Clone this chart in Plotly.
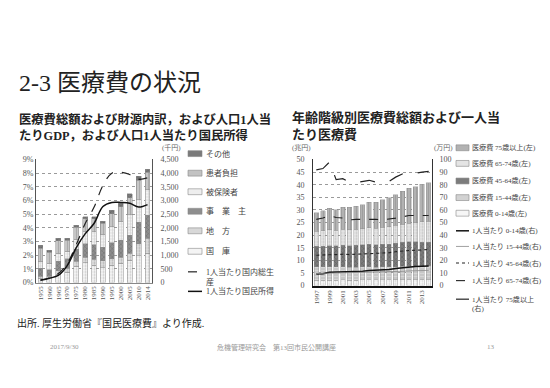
import plotly.graph_objects as go

W, H = 550, 388
def X(p): return p / W
def Y(p): return 1 - p / H

# ---------------- data: left chart (medical cost as % of GDP, by source) ----------------
years_left = ['1955', '1960', '1965', '1970', '1975', '1980', '1985',
              '1990', '1995', '2000', '2005', '2010', '2014']
kokko      = [0.30, 0.30, 0.60, 0.75, 1.20, 1.45, 1.25, 1.10, 1.25, 1.40, 1.65, 1.95, 2.15]
chiho      = [0.15, 0.15, 0.25, 0.30, 0.35, 0.40, 0.45, 0.50, 0.50, 0.45, 0.50, 0.90, 1.08]
jigyonushi = [0.60, 0.50, 0.70, 0.70, 0.90, 1.00, 1.05, 1.00, 1.15, 1.25, 1.30, 1.55, 1.70]
hihokensha = [0.50, 0.45, 0.60, 0.55, 0.70, 0.85, 0.95, 0.95, 1.20, 1.40, 1.50, 1.65, 1.85]
kanja      = [0.95, 0.80, 0.90, 0.80, 0.90, 0.95, 0.95, 0.80, 0.95, 1.05, 1.25, 1.42, 1.28]
sonota     = [0.23, 0.18, 0.20, 0.15, 0.15, 0.15, 0.15, 0.15, 0.25, 0.25, 0.30, 0.30, 0.24]
gdp_pc     = [95, 170, 330, 700, 1380, 2150, 2750, 3550, 4000, 4030, 3950, 3780, 3830]
ni_pc      = [85, 160, 260, 620, 1270, 1780, 2160, 2780, 2930, 2930, 2900, 2760, 2850]

# ---------------- data: right chart (medical cost by age, trillion yen / per capita 10k yen) ----------------
years_right = [str(y) for y in range(1997, 2015)]
right_ticks = ['1997', '1999', '2001', '2003', '2005', '2007', '2009', '2011', '2013']
c0_14  = [2.0, 2.0, 2.1, 2.1, 2.2, 2.1, 2.1, 2.2, 2.2, 2.2, 2.3, 2.3, 2.4, 2.5, 2.5, 2.5, 2.5, 2.5]
c15_44 = [5.4, 5.4, 5.4, 5.3, 5.3, 5.2, 5.2, 5.2, 5.2, 5.1, 5.1, 5.1, 5.1, 5.2, 5.2, 5.2, 5.2, 5.3]
c45_64 = [8.1, 8.2, 8.3, 8.3, 8.4, 8.5, 8.6, 8.7, 8.9, 8.8, 8.9, 9.0, 9.3, 9.4, 9.6, 9.6, 9.5, 9.3]
c65_74 = [6.0, 6.2, 6.4, 6.2, 6.4, 6.4, 6.5, 6.5, 6.7, 6.6, 6.8, 6.9, 7.1, 7.3, 7.5, 7.6, 8.0, 8.4]
c75    = [7.4, 7.8, 8.5, 8.2, 8.8, 8.8, 9.1, 9.5, 10.1, 10.4, 11.0, 11.5, 12.1, 13.0, 13.8, 14.3, 14.9, 15.3]
p0_14  = [9.2, 9.4, 10.5, 10.6, 11.0, 11.0, 11.2, 11.4, 12.0, 12.1, 12.6, 12.7, 13.4, 14.1, 14.7, 15.0, 15.3, 15.4]
p15_44 = [9.5, 9.6, 9.9, 9.8, 10.0, 9.9, 10.0, 10.1, 10.4, 10.4, 10.6, 10.7, 11.0, 11.3, 11.6, 11.8, 11.9, 12.0]
p45_64 = [24.0, 24.2, 24.6, 24.5, 24.8, 24.6, 24.8, 25.0, 25.6, 25.6, 25.9, 26.0, 26.8, 27.5, 27.8, 28.0, 28.1, 28.5]
p65_74 = [52.5, 53.5, 55.5, 54.0, 53.5, 52.0, 52.5, 52.5, 53.0, 52.5, 52.0, 52.5, 53.5, 54.5, 55.5, 55.5, 55.5, 55.5]
p75    = [91.8, 92.8, 98.0, 84.0, 84.8, 82.0, 81.7, 82.5, 83.5, 82.0, 82.5, 82.5, 86.0, 88.5, 89.0, 89.0, 90.0, 90.5]

SERIF = "Liberation Serif, Noto Sans CJK JP"
JP = "Noto Sans CJK JP"

fig = go.Figure()

# left stacked bars
left_stack = [
    ("国　庫", kokko, '#f6f6f6', '.', '#a0a0a0'),
    ("地　方", chiho, '#dedede', '.', '#8a8a8a'),
    ("事　業　主", jigyonushi, '#8e8e8e', 'x', '#555555'),
    ("被保険者", hihokensha, '#f2f2f2', '+', '#b0b0b0'),
    ("患者負担", kanja, '#c6c6c6', '|', '#909090'),
    ("その他", sonota, '#7a7a7a', 'x', '#444444'),
]
for name, vals, fill, shape, fg in left_stack:
    fig.add_trace(go.Bar(
        x=years_left, y=vals, name=name, width=0.55, showlegend=False,
        marker=dict(color=fill, line=dict(color='#8c8c8c', width=0.5),
                    pattern=dict(shape=shape, fgcolor=fg, size=3, solidity=0.35)),
        xaxis='x', yaxis='y'))

fig.add_trace(go.Scatter(x=years_left, y=gdp_pc, mode='lines', name='1人当たり国内総生産',
                         showlegend=False, line=dict(color='#222', width=1.2, dash='dash', shape='spline'),
                         xaxis='x', yaxis='y2'))
fig.add_trace(go.Scatter(x=years_left, y=ni_pc, mode='lines', name='1人当たり国民所得',
                         showlegend=False, line=dict(color='#111', width=1.5, shape='spline'),
                         xaxis='x', yaxis='y2'))

# right stacked bars
right_stack = [
    ("医療費 0-14歳(左)", c0_14, '#f7f7f7', '.', '#b5b5b5'),
    ("医療費 15-44歳(左)", c15_44, '#d6d6d6', '-', '#9a9a9a'),
    ("医療費 45-64歳(左)", c45_64, '#7c7c7c', 'x', '#444444'),
    ("医療費 65-74歳(左)", c65_74, '#e6e6e6', '.', '#a5a5a5'),
    ("医療費 75歳以上(左)", c75, '#b2b2b2', '|', '#8a8a8a'),
]
for name, vals, fill, shape, fg in right_stack:
    fig.add_trace(go.Bar(
        x=years_right, y=vals, name=name, width=0.68, showlegend=False,
        marker=dict(color=fill, line=dict(color='#8c8c8c', width=0.4),
                    pattern=dict(shape=shape, fgcolor=fg, size=3, solidity=0.35)),
        xaxis='x2', yaxis='y3'))

right_lines = [
    ("1人当たり 0-14歳(右)", p0_14, dict(color='#111', width=1.5)),
    ("1人当たり 15-44歳(右)", p15_44, dict(color='#888', width=0.8)),
    ("1人当たり 45-64歳(右)", p45_64, dict(color='#222', width=1.1, dash='dot')),
    ("1人当たり 65-74歳(右)", p65_74, dict(color='#222', width=1.1, dash='dash')),
    ("1人当たり 75歳以上(右)", p75, dict(color='#222', width=1.2, dash='longdash')),
]
for name, vals, ln in right_lines:
    fig.add_trace(go.Scatter(x=years_right, y=vals, mode='lines', name=name, showlegend=False,
                             line=ln, xaxis='x2', yaxis='y4'))

tickfont = dict(family=SERIF, size=8, color='#555')
ylow_l, yhigh_l = Y(277), Y(151)
ylow_r, yhigh_r = Y(280), Y(151)

fig.update_layout(
    width=W, height=H, autosize=False,
    margin=dict(l=0, r=0, t=0, b=0),
    paper_bgcolor='white', plot_bgcolor='white',
    barmode='stack', showlegend=False,
    xaxis=dict(domain=[X(28), X(144)], anchor='y', type='category', tickangle=-90,
               tickfont=dict(family=SERIF, size=7, color='#555'), showgrid=False,
               showline=True, linecolor='#888', linewidth=0.8, ticks=''),
    yaxis=dict(domain=[ylow_l, yhigh_l], anchor='x', range=[0, 9], dtick=1, ticksuffix='%',
               tickfont=tickfont, showgrid=True, gridcolor='#9a9a9a', griddash='dot', gridwidth=0.8,
               showline=True, linecolor='#555', linewidth=0.8, zeroline=False, ticks=''),
    yaxis2=dict(overlaying='y', side='right', anchor='x', range=[0, 4500], dtick=500,
                tickformat=',', tickfont=tickfont, showgrid=False, zeroline=False,
                showline=True, linecolor='#555', linewidth=0.8, ticks='', ticklabelstandoff=6),
    xaxis2=dict(domain=[X(305), X(424)], anchor='y3', type='category', tickangle=-90,
                tickmode='array', tickvals=right_ticks, ticktext=right_ticks,
                tickfont=dict(family=SERIF, size=7, color='#555'), showgrid=False,
                showline=True, linecolor='#111', linewidth=2, ticks=''),
    yaxis3=dict(domain=[ylow_r, yhigh_r], anchor='x2', range=[0, 50], dtick=5,
                tickfont=tickfont, showgrid=True, gridcolor='#9a9a9a', griddash='dot', gridwidth=0.8,
                showline=True, linecolor='#333', linewidth=0.8, zeroline=False, ticks='',
                ticklabelstandoff=6),
    yaxis4=dict(overlaying='y3', side='right', anchor='x2', range=[0, 100], dtick=10,
                tickfont=tickfont, showgrid=False, zeroline=False,
                showline=True, linecolor='#333', linewidth=0.8, ticks='', ticklabelstandoff=5),
)

ann = []
def text(x, y, s, size, color='#222', family=SERIF, anchor='left', yanchor='middle'):
    ann.append(dict(x=X(x), y=Y(y), xref='paper', yref='paper', text=s, showarrow=False,
                    xanchor=anchor, yanchor=yanchor, align='left',
                    font=dict(family=family, size=size, color=color)))

text(9, 73, "2-3 医療費の状況", 24, '#222')
text(9, 118, "<b>医療費総額および財源内訳，および人口1人当<br>たりGDP，および人口1人当たり国民所得</b>", 12.3, '#222')
text(282, 117, "<b>年齢階級別医療費総額および一人当<br>たり医療費</b>", 13, '#222')
text(152, 139, "(千円)", 7, '#666')
text(282, 139, "(兆円)", 7, '#666')
text(424, 139, "(万円)", 7, '#666')
text(7, 318, "出所. 厚生労働省『国民医療費』より作成.", 10, '#222')
text(40, 343, "2017/9/30", 7, '#999')
text(207, 343, "危機管理研究会　第13回市民公開講座", 7, '#999')
text(477, 343, "13", 7, '#999')

shapes = []
# left legend
left_leg = [
    ("その他", 145, '#7a7a7a'),
    ("患者負担", 165, '#c2c2c2'),
    ("被保険者", 184, '#eeeeee'),
    ("事　業　主", 204, '#8e8e8e'),
    ("地　方", 224, '#d8d8d8'),
    ("国　庫", 245, '#f4f4f4'),
]
for name, yy, col in left_leg:
    shapes.append(dict(type='rect', xref='paper', yref='paper', x0=X(180), x1=X(194),
                       y0=Y(yy + 3), y1=Y(yy - 3), fillcolor=col, line=dict(color='#888', width=0.6)))
    text(196, yy, name, 8, '#444', SERIF)
shapes.append(dict(type='line', xref='paper', yref='paper', x0=X(180), x1=X(194), y0=Y(266), y1=Y(266),
                   line=dict(color='#222', width=1.2, dash='dash')))
text(196, 271, "1人当たり国内総生<br>産", 8, '#444', SERIF)
shapes.append(dict(type='line', xref='paper', yref='paper', x0=X(180), x1=X(194), y0=Y(286), y1=Y(286),
                   line=dict(color='#111', width=1.5)))
text(196, 286, "1人当たり国民所得", 8, '#444', SERIF)

# right legend
right_leg = [
    ("医療費 75歳以上(左)", 139, '#b2b2b2'),
    ("医療費 65-74歳(左)", 155, '#e4e4e4'),
    ("医療費 45-64歳(左)", 173, '#7c7c7c'),
    ("医療費 15-44歳(左)", 190, '#d2d2d2'),
    ("医療費 0-14歳(左)", 206, '#f6f6f6'),
]
for name, yy, col in right_leg:
    shapes.append(dict(type='rect', xref='paper', yref='paper', x0=X(448), x1=X(461),
                       y0=Y(yy + 3), y1=Y(yy - 3), fillcolor=col, line=dict(color='#888', width=0.6)))
    text(462, yy, name, 7.1, '#444', SERIF)
right_leg_lines = [
    ("1人当たり 0-14歳(右)", 224, dict(color='#111', width=1.5)),
    ("1人当たり 15-44歳(右)", 240, dict(color='#888', width=0.8)),
    ("1人当たり 45-64歳(右)", 257, dict(color='#222', width=1.1, dash='dot')),
    ("1人当たり 65-74歳(右)", 275, dict(color='#222', width=1.1, dash='dash')),
]
for name, yy, ln in right_leg_lines:
    shapes.append(dict(type='line', xref='paper', yref='paper', x0=X(448), x1=X(461), y0=Y(yy), y1=Y(yy), line=ln))
    text(462, yy, name, 7.1, '#444', SERIF)
shapes.append(dict(type='line', xref='paper', yref='paper', x0=X(448), x1=X(461), y0=Y(294), y1=Y(294),
                   line=dict(color='#222', width=1.2, dash='longdash')))
text(462, 299, "1人当たり 75歳以上<br>(右)", 7.1, '#444', SERIF)

fig.update_layout(annotations=ann, shapes=shapes)
fig.write_html("out.html")
